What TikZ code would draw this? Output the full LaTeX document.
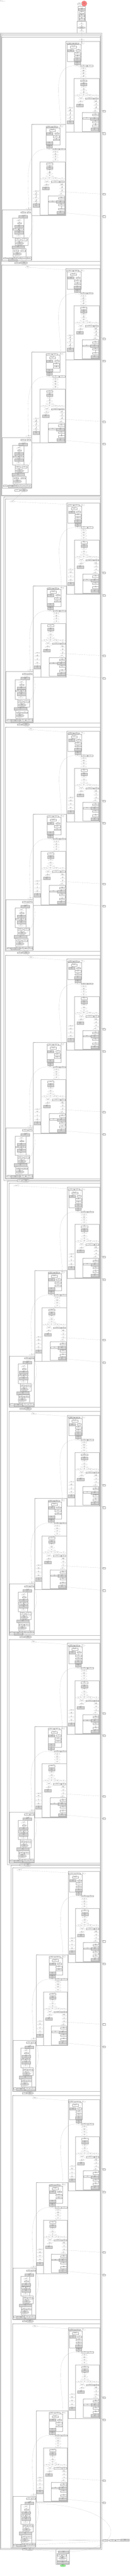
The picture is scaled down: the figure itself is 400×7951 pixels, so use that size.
\documentclass[tikz,border=0pt]{standalone}
\usepackage{fontspec}
\setmainfont{Liberation Serif}
\usetikzlibrary{arrows.meta,shapes.geometric}

\definecolor{opgray}{RGB}{211,211,211}
\definecolor{inred}{RGB}{248,128,128}
\definecolor{outgreen}{RGB}{144,238,144}

\tikzset{
  every node/.style={font=\fontsize{1.5}{1.7}\selectfont, inner sep=0pt, align=center, text=black!80},
  pbox/.style 2 args={rectangle, draw=gray!60, line width=0.2pt, fill=white,
    minimum width=#1pt, minimum height=#2pt},
  opbox/.style 2 args={rectangle, draw=gray!60, line width=0.2pt, fill=opgray,
    minimum width=#1pt, minimum height=#2pt},
  tens/.style 2 args={ellipse, draw=gray!60, line width=0.2pt, fill=white,
    minimum width=#1pt, minimum height=#2pt},
  optens/.style 2 args={ellipse, draw=gray!60, line width=0.2pt, fill=opgray,
    minimum width=#1pt, minimum height=#2pt},
  grp/.style={draw=gray!55, line width=0.6pt},
  outer/.style={draw=gray!50, line width=1pt},
  clab/.style={anchor=north west, align=left, font=\fontsize{1.2}{1.4}\selectfont},
  flow/.style={-{Stealth[length=1.3pt,width=1pt]}, draw=gray!60, line width=0.15pt},
}

\newcommand{\lb}[2]{\textbf{#1}\\#2}

% attention group, nodes 1..46
\newcommand{\attn}[4]{%
  \draw[grp] (203,12) rectangle (307,293);
  \node[clab] (#1-cap) at (203.6,12.6) {#4};
  \begin{scope}[xshift=#2pt]
    \node[pbox={18}{4}] (#1-1) at (215,19) {\lb{k\_cache}{1x12x1x64}};
    \node[pbox={16}{4}] (#1-2) at (234,19) {\lb{v\_cache}{1x12x1x64}};
    \node[tens={16}{5}] (#1-3) at (252,19) {\lb{hidden}{1x1x768}};
    \draw[grp] (207,22) rectangle (250,75);
    \node[clab] (#1-cap1) at (207.6,22.6) {layer\_norm};
    \node[pbox={19}{6}] (#1-4) at (226.5,30) {\lb{ReduceMean}{1x1x1}};
    \node[opbox={19}{7}] (#1-5) at (218.5,40.5) {\lb{Sub}{1x1x768}\\1x1x768};
    \node[pbox={13}{4}] (#1-6) at (240.5,40) {\lb{Pow}{2.0}};
    \node[pbox={19}{6}] (#1-7) at (238.5,50) {\lb{ReduceMean}{1x1x1}};
    \node[pbox={19}{4}] (#1-8) at (238.5,59) {\lb{Add}{1e-05}};
  \end{scope}
  \begin{scope}[xshift=#3pt]
    \node[opbox={20}{8}] (#1-9) at (238,69) {\lb{Sqrt}{1x1x1}\\1x1x1};
    \node[opbox={19}{8}] (#1-10) at (238,80) {\lb{Div}{1x1x768}\\1x1x768};
    \node[tens={15}{5}] (#1-11) at (237.5,88) {\lb{Mul}{1x1x768}};
    \node[pbox={19}{4}] (#1-12) at (257.5,88) {\lb{weight}{768}};
    \node[pbox={17}{4}] (#1-13) at (277.5,88) {\lb{bias}{768}};
    \node[tens={18}{5}] (#1-14) at (257,98) {\lb{Add}{1x1x768}};
    \node[tens={18}{5}] (#1-15) at (257,106) {\lb{MatMul}{1x1x2304}};
    \node[tens={18}{6}] (#1-16) at (257,114) {\lb{Add}{1x1x2304}};
    \node[tens={18}{5}] (#1-17) at (257,123) {\lb{Split}{3}};
  \end{scope}
  \draw[grp] (227,127) rectangle (306,292);
  \node[clab] (#1-cap2) at (227.6,127.6) {attn};
  \node[pbox={20}{6}] (#1-18) at (258,134) {\lb{Reshape}{1x1x12x64}};
  \node[opbox={20}{8}] (#1-19) at (258,145) {\lb{Transpose}{0,2,1,3}\\1x12x1x64};
  \node[tens={16}{5}] (#1-20) at (258,154) {\lb{Concat}{axis=2}};
  \node[tens={18}{6}] (#1-21) at (258,164) {\lb{MatMul}{1x12x1x65}};
  \node[tens={24}{4}] (#1-22) at (258,172) {\lb{Div}{8.0}};
  \node[tens={17}{5}] (#1-23) at (238.5,180) {\lb{Shape}{4}};
  \node[tens={19}{5}] (#1-24) at (257.5,180) {\lb{Gather}{1}};
  \node[tens={18}{5}] (#1-25) at (277,180) {\lb{Where}{mask}};
  \node[tens={15}{5}] (#1-26) at (296.5,180) {\lb{Slice}{1x1}};
  \node[tens={16}{5}] (#1-27) at (250,190) {\lb{Softmax}{axis=-1}};
  \node[pbox={25}{4}] (#1-28) at (275.5,189) {\lb{mask\_value}{-inf}};
  \node[pbox={13}{4}] (#1-29) at (296.5,189) {\lb{bias}{1x1}};
  \node[tens={16}{4}] (#1-30) at (248,200) {\lb{MatMul}{1x12x1x64}};
  \node[opbox={21}{8}] (#1-31) at (245.5,210) {\lb{Transpose}{0,2,1,3}\\1x1x12x64};
  \node[tens={14}{5}] (#1-32) at (296,200) {\lb{Reshape}{1x1x768}};
  \node[tens={14}{5}] (#1-33) at (296,210) {\lb{Concat}{axis=2}};
  \node[tens={14}{4}] (#1-34) at (296,220) {\lb{present}{key}};
  \node[tens={14}{4}] (#1-35) at (293,229) {\lb{Unsqueeze}{0}};
  \draw[grp] (253,232) rectangle (304,290);
  \node[clab] (#1-cap3) at (253.6,232.6) {out\_proj};
  \node[pbox={19}{5}] (#1-36) at (294.5,239.5) {\lb{MatMul}{1x1x768}};
  \node[opbox={24}{8}] (#1-37) at (291,251) {\lb{Gemm}{768x768}\\1x1x768};
  \node[pbox={24}{4}] (#1-38) at (267,250) {\lb{weight}{768x768}};
  \node[pbox={19}{5}] (#1-39) at (294.5,260.5) {\lb{Add}{1x1x768}};
  \node[pbox={19}{6}] (#1-40) at (294.5,273) {\lb{Dropout}{1x1x768}};
  \node[opbox={23}{8}] (#1-41) at (291,284) {\lb{Add}{residual}\\1x1x768};
  \node[tens={16}{4}] (#1-42) at (216,219) {\lb{Reshape}{1x1x768}};
  \node[tens={16}{4}] (#1-43) at (216,228) {\lb{MatMul}{1x1x768}};
  \node[tens={18}{6}] (#1-44) at (216,240) {\lb{Add}{1x1x768}};
  \node[tens={16}{4}] (#1-45) at (216,251) {\lb{Dropout}{1x1x768}};
  \node[opbox={19}{10}] (#1-46) at (216,262) {\lb{Add}{1x1x768}\\1x1x768};
  \path[flow] (#1-1) edge (#1-4) (#1-2) edge (#1-4) (#1-3) edge (#1-6)
    (#1-4) edge (#1-5) (#1-5) edge (#1-7) (#1-6) edge (#1-7) (#1-7) edge (#1-8)
    (#1-8) edge (#1-9) (#1-9) edge (#1-10) (#1-10) edge (#1-11)
    (#1-11) edge (#1-14) (#1-12) edge (#1-14) (#1-13) edge (#1-14)
    (#1-14) edge (#1-15) (#1-15) edge (#1-16) (#1-16) edge (#1-17)
    (#1-17) edge (#1-18) (#1-18) edge (#1-19) (#1-19) edge (#1-20)
    (#1-20) edge (#1-21) (#1-21) edge (#1-22)
    (#1-22) edge (#1-23) (#1-22) edge (#1-24) (#1-22) edge (#1-25) (#1-22) edge (#1-26)
    (#1-23) edge (#1-27) (#1-24) edge (#1-27) (#1-27) edge (#1-30) (#1-28) edge (#1-30)
    (#1-30) edge (#1-31) (#1-25) edge (#1-32) (#1-26) edge (#1-32) (#1-29) edge (#1-32)
    (#1-32) edge (#1-33) (#1-33) edge (#1-34) (#1-34) edge (#1-35) (#1-35) edge (#1-36)
    (#1-36) edge (#1-37) (#1-38) edge (#1-37) (#1-37) edge (#1-39)
    (#1-39) edge (#1-40) (#1-40) edge (#1-41)
    (#1-31) edge (#1-42) (#1-42) edge (#1-43) (#1-43) edge (#1-44)
    (#1-44) edge (#1-45) (#1-45) edge (#1-46);
}

% one decoder block: top, name, entry x, height, depth
\newcommand{\decblock}[5]{%
  \pgfmathsetmacro{\sA}{(104-2.3*#5)/104}
  \pgfmathsetmacro{\tA}{203+2.3*#5-\sA*203}
  \pgfmathsetmacro{\tB}{98+4.3*#5-\sA*203}
  \pgfmathsetmacro{\sC}{(90-6.7*#5)/90}
  \pgfmathsetmacro{\tC}{7+11*#5-\sC*7}
  \begin{scope}[yshift=-#1pt]
    \draw[grp] (5.3+11*#5,0) rectangle (308,#4);
    \node[clab] (#2cap) at (5.9+11*#5,0.6) {layers.#2};
    \node[tens={16}{5}] (#2in) at (#3,8) {\lb{hidden}{1x1x768}};
    \begin{scope}[xshift=\tA pt, xscale=\sA]
      \attn{#2A}{0}{0}{self\_attn}
    \end{scope}
    \begin{scope}[xshift=\tB pt, xscale=\sA, yshift=-257pt]
      \attn{#2B}{40}{19}{encoder\_attn}
    \end{scope}
    \begin{scope}[xshift=\tC pt, xscale=\sC]
      \node[tens={17}{5}] (#2bc) at (88.5,529.5) {\lb{Add}{1x1x768}};
      \draw[grp] (7,533) rectangle (97,689);
      \node[clab] (#2capC) at (7.6,533.6) {mlp};
      \node[pbox={15}{4}] (#2c1) at (70.5,540) {\lb{weight}{768}};
      \node[pbox={11}{4}] (#2c2) at (88.5,540) {\lb{bias}{768}};
      \node[opbox={27}{8}] (#2c3) at (71.5,554) {\lb{LayerNorm}{eps=1e-05}\\1x1x768};
      \draw[grp] (38,558) rectangle (73,618);
      \node[clab] (#2capC1) at (38.6,558.6) {fc1};
      \node[tens={14}{5}] (#2c4) at (58,566) {\lb{MatMul}{1x1x3072}};
      \node[pbox={12}{3}] (#2c5) at (60,573.5) {\lb{Add}{}};
      \node[opbox={27}{7}] (#2c6) at (58.5,583.5) {\lb{Gemm}{768x3072}\\1x1x3072};
      \node[pbox={15}{4}] (#2c7) at (47.5,592) {\lb{weight}{3072x768}};
      \node[pbox={14}{4}] (#2c8) at (65,592) {\lb{bias}{3072}};
      \node[opbox={27}{9}] (#2c9) at (58.5,602.5) {\lb{Gelu}{1x1x3072}\\1x1x3072};
      \node[tens={14}{5}] (#2c10) at (57,612.5) {\lb{fc2}{1x1x768}};
      \draw[grp] (46,618) rectangle (86,642);
      \node[clab] (#2capC2) at (46.6,618.6) {fc2};
      \node[pbox={15}{5}] (#2c11) at (54.5,624.5) {\lb{weight}{768x3072}};
      \node[pbox={16}{5}] (#2c12) at (75,624.5) {\lb{bias}{768}};
      \node[optens={25}{10}] (#2c13) at (60.5,636) {\lb{Gemm}{1x1x768}\\1x1x768};
      \node[opbox={39}{9}] (#2c14) at (55.5,647.5) {\lb{Add}{residual}\\1x1x768};
      \draw[grp] (40,652) rectangle (80,677);
      \node[clab] (#2capC3) at (40.6,652.6) {final\_norm};
      \node[pbox={15}{4}] (#2c15) at (50.5,659) {\lb{weight}{768}};
      \node[pbox={15}{4}] (#2c16) at (70.5,659) {\lb{bias}{768}};
      \node[optens={27}{10}] (#2c17) at (53.5,669) {\lb{LayerNorm}{1x1x768}\\1x1x768};
      \node[pbox={13}{4}] (#2c18) at (16.5,682) {\lb{scale}{1}};
      \node[opbox={27}{9}] (#2c19) at (38.5,684.5) {\lb{Mul}{1x1x768}\\1x1x768};
      \draw[grp] (53,677) rectangle (96,688);
      \node[pbox={17}{4}] (#2c20) at (63.5,682) {\lb{key}{1x12x1x64}};
      \node[pbox={18}{4}] (#2c21) at (84,682) {\lb{value}{1x12x1x64}};
      \node[pbox={15}{4}] (#2d1) at (52.5,696) {\lb{cache}{1}};
      \node[optens={24}{9}] (#2d2) at (74,696.5) {\lb{Identity}{1x1x768}\\1x1x768};
    \end{scope}
    \node[pbox={9}{5}] (#2p1) at (320.5,228) {\lb{present}{key}};
    \node[pbox={9}{5}] (#2p2) at (320.5,297) {\lb{present}{value}};
    \node[pbox={9}{5}] (#2p3) at (320.5,484) {\lb{present}{key}};
    \node[pbox={9}{5}] (#2p4) at (320.5,553) {\lb{present}{value}};
    \path[flow] (#2in) edge (#2A-3)
      (#2A-46) edge (#2B-3) (#2A-11) edge[out=180,in=90] (#2B-3)
      (#2B-46) edge (#2bc) (#2B-11) edge[out=180,in=90] (#2bc)
      (#2A-34) edge (#2p1) (#2A-41) edge (#2p2)
      (#2B-34) edge (#2p3) (#2B-41) edge (#2p4)
      (#2c1) edge (#2c3) (#2c2) edge (#2c3) (#2bc) edge (#2c3)
      (#2c3) edge (#2c4) (#2c4) edge (#2c5) (#2c5) edge (#2c6)
      (#2c6) edge (#2c9) (#2c7) edge (#2c9) (#2c8) edge (#2c9) (#2c9) edge (#2c10)
      (#2c10) edge (#2c13) (#2c11) edge (#2c13) (#2c12) edge (#2c13) (#2c13) edge (#2c14)
      (#2bc) edge[out=-60,in=30] (#2c14)
      (#2c14) edge (#2c17) (#2c15) edge (#2c17) (#2c16) edge (#2c17)
      (#2c17) edge (#2c19) (#2c18) edge (#2c19)
      (#2c19) edge (#2d2) (#2c20) edge (#2d2) (#2c21) edge (#2d2) (#2d1) edge (#2d2);
  \end{scope}
}

\begin{document}
\begin{tikzpicture}[x=1pt,y=-1pt]
\useasboundingbox (0,0) rectangle (400,7951);
\node[anchor=north west, align=left] (title) at (0.5,0.5) {graph\\decoder\_model\\opset 14 producer pytorch};

% inputs and embeddings
\node[circle, draw=inred!80!black, line width=0.2pt, fill=inred, minimum size=17pt] (ids) at (259.5,11) {\lb{input\_ids}{1x1}\\int64};
\node[pbox={12}{6}, draw=gray!40] (pos) at (245,12) {\lb{past\_len}{int64}\\1};
\draw[grp] (240,20) rectangle (263,65);
\node[clab] (capK1) at (240.6,20.6) {embed};
\node[opbox={21}{7}] (k1) at (252,28.5) {\lb{Gather}{1x1x768}\\1x1x768};
\node[pbox={14}{7}] (k2) at (252,38.5) {\lb{Mul}{scale}\\1x1x768};
\draw[grp] (243,43) rectangle (261,64);
\node[clab] (capK2) at (243.6,43.6) {embed\_positions};
\node[pbox={14}{5}] (k3) at (252,49) {\lb{Add}{1x1}};
\node[pbox={15}{6}] (k4) at (252,58) {\lb{Gather}{1x1x768}\\1x1x768};
\draw[grp] (237,66) rectangle (266,102);
\node[clab] (capK3) at (237.6,66.6) {decoder};
\node[tens={14}{5}] (k5) at (251.5,74.5) {\lb{Add}{1x1x768}};
\node[optens={25}{7}] (k6) at (251.5,85.5) {\lb{LayerNorm}{1x1x768}\\1x1x768};
\node[tens={14}{6}] (k7) at (251.5,96) {\lb{Dropout}{1x1x768}};
\path[flow] (ids) edge (k1) (pos) edge (k1) (k1) edge (k2) (k2) edge (k3)
  (k3) edge (k4) (k4) edge (k5) (k5) edge (k6) (k6) edge (k7);

% nested frames of the decoder layers
\draw[outer] (1,102) rectangle (313,7868);
\node[clab] (capF0) at (1.6,102.6) {model};
\draw[outer] (2.7,106) rectangle (311.3,7865.5);
\node[clab] (capF1) at (3.3,106.6) {decoder.layers};
\draw[outer] (4,111) rectangle (309.6,1530);
\node[clab] (capL1) at (4.6,111.6) {group 0};
\draw[outer] (12,1533) rectangle (309.6,3643);
\node[clab] (capL2) at (12.6,1533.6) {group 1};
\draw[outer] (23,3645) rectangle (309.6,5755);
\node[clab] (capL3) at (23.6,3645.6) {group 2};
\draw[outer] (34,5757) rectangle (309.6,7864);
\node[clab] (capL4) at (34.6,5757.6) {group 3};

\decblock{115}{k1}{252}{691}{0}
\decblock{817}{k2}{86}{711}{0}
\decblock{1540}{k3}{38}{691}{1}
\decblock{2244}{k4}{96}{691}{1}
\decblock{2948}{k5}{96}{691}{1}
\decblock{3652}{k6}{50}{691}{2}
\decblock{4356}{k7}{104}{691}{2}
\decblock{5060}{k8}{104}{691}{2}
\decblock{5764}{k9}{60}{691}{3}
\decblock{6468}{k10}{108}{691}{3}
\decblock{7172}{k11}{108}{691}{3}

\path[flow] (k7) edge (k1in) (k1d2) edge (k2in) (k2d2) edge (k3in) (k3d2) edge (k4in)
  (k4d2) edge (k5in) (k5d2) edge (k6in) (k6d2) edge (k7in) (k7d2) edge (k8in)
  (k8d2) edge (k9in) (k9d2) edge (k10in) (k10d2) edge (k11in);

% encoder inputs
\node[pbox={16}{5}] (r1) at (325,7840) {\lb{enc\_key}{1x12x64}};
\node[pbox={17}{5}] (r2) at (345.5,7840) {\lb{enc\_value}{1x12x64}};
\node[pbox={16}{5}] (r3) at (364,7840) {\lb{enc\_mask}{1x1}};
\node[opbox={26}{7}] (r4) at (385,7840) {\lb{Expand}{1x1x1x1}\\1x1x1x1};
\path[flow] (r1) edge (k11c17) (r2) edge (k11c17) (r3) edge (k11c17) (r4) edge (k11c19);

% output head
\draw[grp] (172,7868) rectangle (213,7914);
\node[clab] (capZ) at (172.6,7868.6) {lm\_head};
\node[opbox={32}{8}] (z1) at (196,7876.5) {\lb{LayerNorm}{1x1x768}\\1x1x768};
\draw[grp] (175,7881) rectangle (205,7904);
\node[clab] (capZ1) at (175.6,7881.6) {proj};
\node[pbox={12}{4}] (z2) at (183,7887) {\lb{weight}{768}};
\node[pbox={12}{4}] (z3) at (197,7887) {\lb{bias}{768}};
\node[optens={23}{8}] (z4) at (192,7896) {\lb{MatMul}{1x1x51865}\\1x1x51865};
\node[opbox={37}{8}] (z5) at (193,7909) {\lb{Add}{1x1x51865}\\1x1x51865};
\node[ellipse, fill=outgreen, draw=outgreen!70!black, line width=0.2pt, minimum width=18pt, minimum height=7pt] (logits) at (194,7919) {\lb{logits}{1x1x51865}};
\path[flow] (k11d2) edge (z1) (z1) edge (z4) (z2) edge (z4) (z3) edge (z4)
  (z4) edge (z5) (z5) edge (logits);
\draw[flow] (k11c3) .. controls (400,7735) and (400,7870) .. (z1);
\end{tikzpicture}
\end{document}
